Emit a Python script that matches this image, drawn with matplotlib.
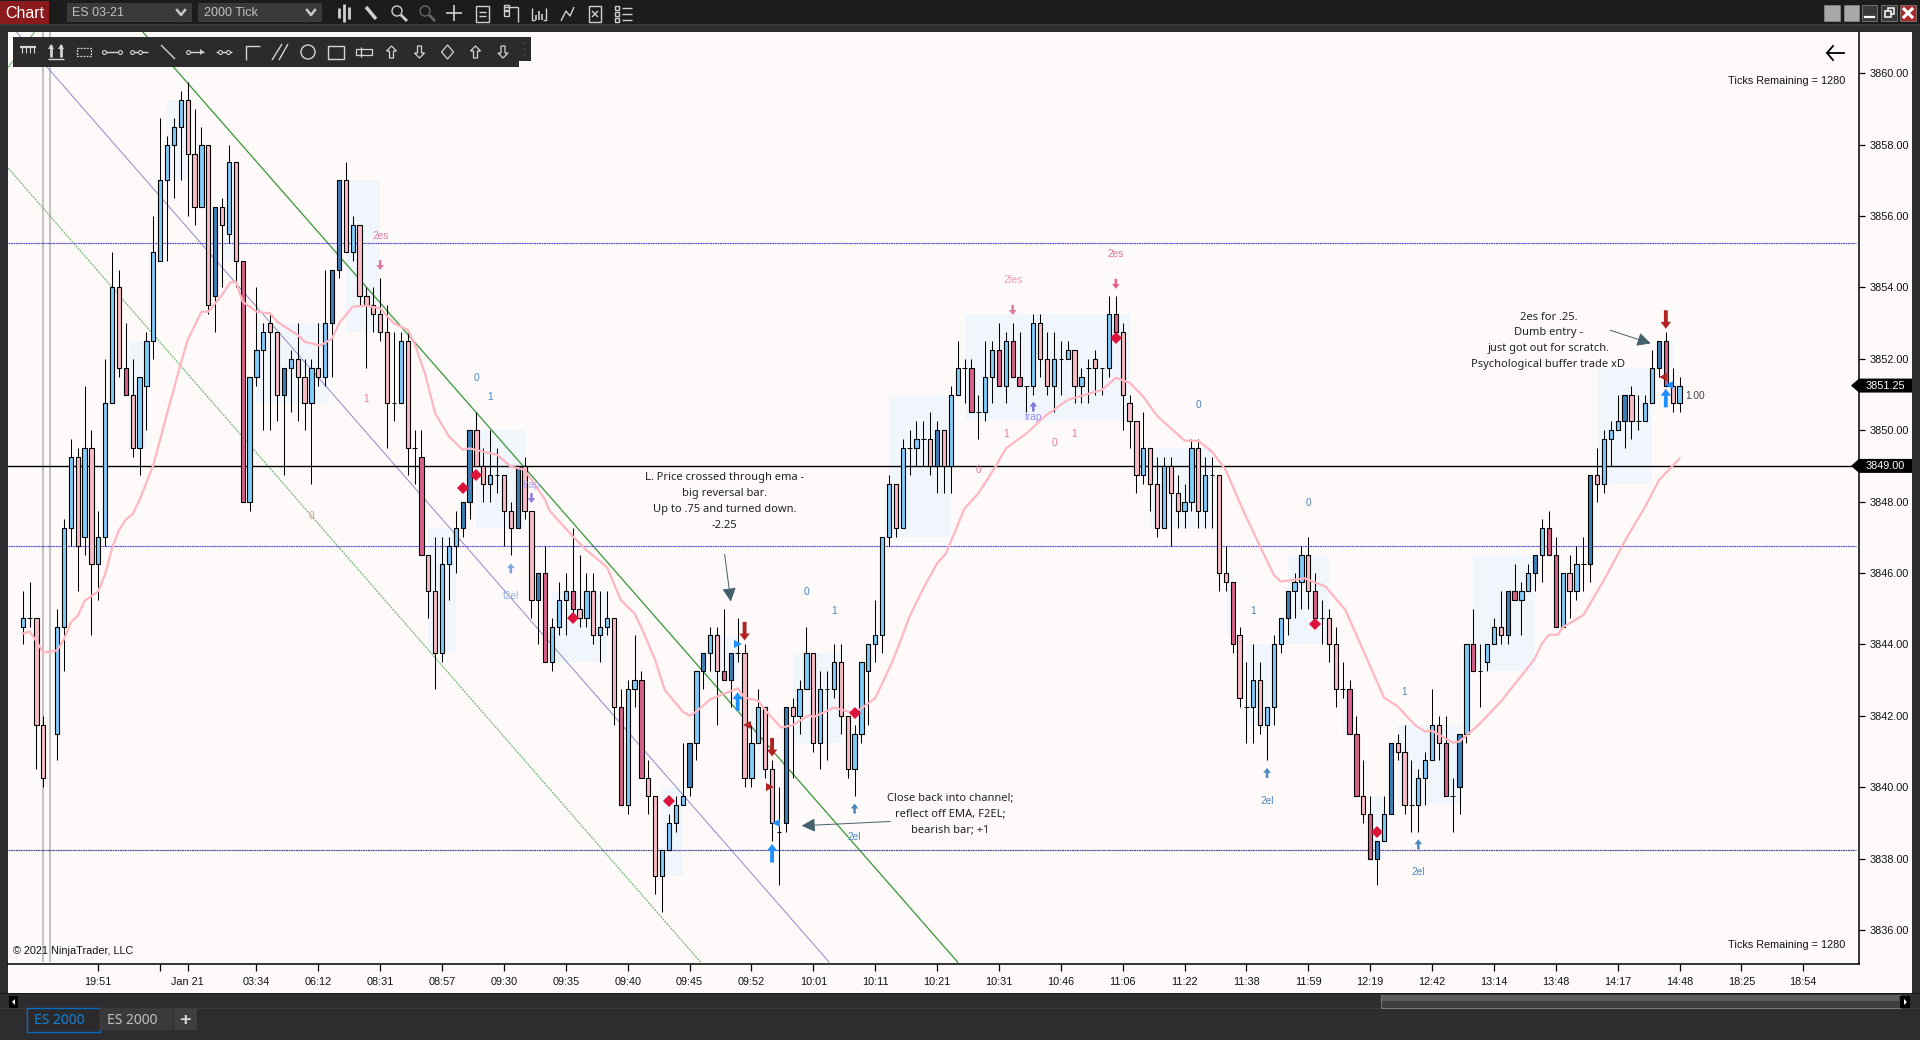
import math
import matplotlib
matplotlib.use("Agg")
import matplotlib.pyplot as plt
from matplotlib.patches import Rectangle, Polygon, Circle

nan = math.nan

opens = [3844.5,3844.75,3844.75,3841.75,nan,3841.5,3844.5,3847.25,3849.25,3847,3849.5,3846.25,3847,3850.75,3854,3851.75,3851,3849.5,3851.25,3852.5,
3854.75,3857,3858,3858.5,3859.25,3857.75,3856.25,3858,3853.75,3856.25,3855.5,3857.5,3854.75,3848,3851.5,3852.25,3853,3852.75,3851,3851.75,
3852,3851.5,3850.75,3851.75,3851.5,3853,3854.5,3857,3855,3855.75,3853.75,3853.5,3853.25,3852.75,3850.75,3850.75,3852.5,3849.5,3849.25,3846.5,
3845.5,3843.75,3846.25,3846.75,3847.25,3848,3850,3849,3848.5,3848.75,3848.75,3847.75,3847.25,3849,3847.75,3845.25,3846,3843.5,3844.5,3845.25,
3845.5,3845,3844.75,3845.5,3844.25,3844.5,3844.75,3842.25,3839.5,3842.75,3843,3840.25,3839.75,3837.5,3838.25,3839,3839.5,3840,3841.25,3843.25,
3843.75,3844.25,3843.25,3843,3843.75,3843.75,3840.25,3841.25,3842.25,3840.5,3838.75,3839,3842.25,3842,3842.75,3843.75,3841.25,3842.75,3842.75,3843.5,
3842,3840.5,3841.5,3843.25,3844,3844.25,3847,3848.5,3847.25,3849.5,3849.5,3849.75,3849.75,3849,3850,3849,3851,3851.75,3851.75,3850.5,
3850.5,3851.5,3852.25,3851.25,3852.5,3851.5,3851.25,3851.25,3853,3852,3851.25,3852,3852,3852.25,3851.25,3851.75,3852,3851.75,3851.75,3853.25,
3852.75,3850.75,3850.25,3848.75,3849.5,3848.5,3847.25,3849,3848.25,3847.75,3848,3849.5,3847.75,3848.75,3848.75,3846,3845.75,3844.25,3842.25,3842.25,
3843,3841.75,3842.25,3844,3844.75,3845.5,3845.75,3846.5,3845.5,3844.75,3844.75,3844,3842.75,3842.75,3841.5,3839.75,3839.25,3838,3838.5,3839.25,
3841.25,3841,3839.5,3839.5,3840.25,3840.75,3841.75,3841.25,3839.75,3840,3841.5,3844,3843.25,3843.5,3844,3844.5,3844.25,3845.5,3845.25,3845.5,
3846,3846.5,3847.25,3846.5,3844.5,3846,3845.5,3846.25,3846.25,3848.75,3848.5,3849.75,3850,3850.25,3851,3850.25,3850.25,3850.75,3851.75,3852.5,
3851.25,3850.75]
highs = [3845.5,3845.75,3844.75,3842,nan,3845,3847.5,3849.75,3849.5,3851.25,3850,3847.75,3852,3855,3854.5,3853,3852,3851.5,3852.75,3856,
3858.75,3858.25,3858.75,3859.5,3859.75,3859,3858.5,3858,3856.25,3856.5,3858,3857.5,3854.75,3851.5,3854,3853,3853.25,3852.75,3851.75,3852.25,
3853,3852,3852,3853,3854.5,3854.5,3857,3857.5,3856,3855.75,3854,3854,3854.25,3853.5,3852.75,3852.75,3852.75,3850,3850,3846.5,
3847,3847,3847,3847.75,3848,3850,3850.5,3849.5,3850,3849.5,3848.75,3848,3849,3849.25,3847.75,3846,3846.75,3844.75,3845.75,3846,
3847.25,3846.5,3846,3846,3845.5,3845.5,3844.75,3842.75,3843,3844.25,3843.25,3840.75,3839.75,3838.25,3839.25,3839.75,3841.25,3841.25,3843.25,3843.75,
3844.5,3844.5,3845,3843.75,3844.75,3844,3841.75,3842.75,3842.25,3840.75,3840,3842.25,3842.5,3843,3844.5,3843.75,3843.25,3843.25,3844,3844,
3842,3841.75,3843.5,3844,3845.25,3847,3848.75,3848.5,3849.75,3850,3850.25,3850.25,3850.5,3850.25,3850,3851.25,3852.5,3852,3852,3851,
3852.5,3852.5,3853,3852.75,3853,3852.75,3851.25,3853.25,3853.25,3852.75,3852.75,3852.5,3852.5,3852.25,3851.75,3852,3852.25,3851.75,3853.75,3853.75,
3853,3851,3850.25,3850.5,3849.5,3849.25,3849.25,3849.25,3848.75,3848.5,3849.75,3849.75,3849.25,3849.25,3848.75,3846.75,3845.75,3844.5,3843.5,3844,
3843.5,3842.25,3844.25,3844.75,3845.5,3846,3846.75,3847,3846,3845.25,3845,3844.5,3843.5,3843,3842,3840.75,3839.75,3838.5,3839.75,3841.25,
3841.5,3841.75,3840.75,3840.5,3841,3842.75,3842,3842,3840.25,3841.5,3844,3845,3844,3844,3844.75,3845.5,3845.5,3846.25,3845.75,3846.25,
3846.5,3847.5,3847.75,3847,3846,3846.5,3846.75,3847,3848.75,3849.5,3850,3850.25,3851,3851,3851.25,3851,3851,3852.25,3852.5,3852.75,
3851.75,3851.5]
lows = [3844,3844.5,3840.5,3840,nan,3840.75,3843.25,3846.75,3845.5,3846.5,3844.25,3845.25,3846.75,3850.75,3851.5,3851,3849.25,3848.75,3850,3852,
3854.75,3854.75,3856.5,3857,3856,3855.75,3856.25,3853.25,3852.75,3854,3855.25,3854,3848,3847.75,3851.25,3850,3850,3850.25,3848.75,3850.5,
3850.25,3850,3848.5,3851.25,3851.25,3851.5,3854.25,3855,3854.75,3853.5,3851.75,3852.75,3852.5,3849.5,3850.25,3850.75,3848.75,3848.5,3846.5,3844.75,
3842.75,3843.5,3845.25,3846,3847,3847.5,3849,3848,3848,3848.25,3846.75,3846.5,3847.25,3847.5,3844.75,3844,3843.5,3843.25,3844.25,3844.25,
3844.75,3844.5,3844.5,3844,3843.5,3844.25,3841.75,3839.5,3839.25,3842.25,3840.25,3839.25,3837,3836.5,3838.25,3838.75,3839.5,3839.75,3840.75,3842.75,
3843.25,3841.75,3843,3842.25,3843.5,3840,3840,3841.25,3840.25,3838.5,3837.25,3838.75,3840.25,3841.5,3842.75,3841,3840.5,3840.75,3842.5,3841.5,
3840.25,3839.75,3841.25,3841.75,3843.5,3843.75,3846.75,3847,3847.25,3848.75,3849,3849,3848.75,3848.25,3848.25,3848.25,3851,3850.75,3850.5,3849.75,
3850.25,3850.75,3851.25,3850.75,3851.5,3851.25,3850.5,3851,3851.5,3851,3850.5,3851,3852,3850.75,3850.75,3850.75,3851,3851,3851.5,3852.75,
3850,3849.5,3848.25,3848.5,3847.75,3847,3847.25,3846.75,3847.25,3847.25,3847.75,3847.25,3847.25,3847.25,3845.5,3845.5,3843.75,3842.25,3841.25,3841.25,
3841.5,3840.75,3841.75,3843.75,3844.25,3844.75,3845,3845,3844.75,3844,3843.5,3842.25,3842.5,3841.5,3839.75,3839,3838,3837.25,3838.5,3839.25,
3840.75,3839.25,3838.75,3838.75,3839.5,3840.75,3840.75,3839.75,3838.75,3839.25,3841.25,3843.25,3842.25,3843.25,3844,3844,3844,3845.25,3844.25,3845.5,
3845.5,3845.75,3846.5,3844.5,3844.5,3844.75,3845.25,3845.5,3845.75,3848,3848.25,3849,3850,3849.5,3849.75,3850,3850.25,3850.75,3851.5,3851.25,
3850.5,3850.5]
closes = [3844.75,3844.75,3841.75,3840.25,nan,3844.5,3847.25,3849.25,3846.75,3849.5,3846.25,3847,3850.75,3854,3851.75,3851,3849.5,3851.5,3852.5,3855,
3857,3858,3858.5,3859.25,3857.75,3856.25,3858,3853.5,3856.25,3855.75,3857.5,3854.75,3848,3851.5,3852.25,3852.75,3852.75,3851,3851.75,3852,
3851.5,3850.75,3851.75,3851.5,3853,3854.5,3857,3855,3855.75,3853.75,3853.5,3853.25,3852.75,3850.75,3850.75,3852.5,3849.5,3849.5,3846.5,3845.5,
3843.75,3846.25,3846.75,3847.25,3848,3850,3849,3848.5,3848.75,3848.75,3847.75,3847.25,3849,3847.75,3845.25,3846,3843.5,3844.5,3845.25,3845.5,
3845,3844.75,3845.5,3844.25,3844.5,3844.75,3842.25,3839.5,3842.75,3843,3840.25,3839.75,3837.5,3838.25,3839,3839.5,3839.75,3841.25,3843.25,3843.75,
3844.25,3843.25,3843,3843.75,3843.75,3840.25,3841.25,3842.25,3840.5,3839,3838.75,3842.25,3842,3842.75,3843.75,3841.25,3842.75,3842.75,3843.5,3842,
3840.5,3841.5,3843.5,3844,3844.25,3847,3848.5,3847.25,3849.5,3849.5,3849.75,3849.75,3849,3850,3849,3851,3851.75,3851.75,3850.5,3850.5,
3851.5,3852.25,3851.25,3852.5,3851.5,3851.25,3851.25,3853,3852,3851.25,3852,3852,3852.25,3851.25,3851.5,3851.75,3851.75,3851.75,3853.25,3852.75,
3851,3850.25,3848.75,3849.5,3848.5,3847.25,3849,3848.25,3847.75,3848,3849.5,3847.75,3848.75,3848.75,3846,3845.75,3844,3842.5,3842.25,3843,
3841.75,3842.25,3844,3844.75,3845.5,3845.75,3846.5,3845.5,3844.75,3844.75,3844,3842.75,3842.75,3841.5,3839.75,3839.25,3838,3838.5,3839.25,3841.25,
3841,3839.5,3839.5,3840.25,3840.75,3841.75,3841.25,3839.75,3839.75,3841.5,3844,3843.25,3843.25,3844,3844.5,3844.25,3845.5,3845.25,3845.5,3846,
3846.5,3847.25,3846.5,3844.5,3846,3845.5,3846.25,3846.25,3848.75,3848.5,3849.75,3850,3850.25,3851,3850.25,3850.25,3850.75,3851.75,3852.5,3851.25,
3850.75,3851.25]
dark_bars = [15,28,32,38,45,46,58,64,65,72,75,76,80,87,90,97,99,102,103,111,133,138,142,144,145,159,176,184,188,193,194,196,197,199,
             207,209,211,216,217,220,222,223,228,233,238,239]

ema_i = [0,1,2,3,5,6,7,8,9,11,12,13,14,15,16,17,19,21,23,24,26,27,29,30.2,31,32,34,36,37,40,41,43.3,45,46,48,50,52,54,56,57,58.5,60,62,64,65,69,71,73,76,
         76.6,80,82,85,87,89,90,92,93.4,96,97,98,100,104,105,107,108,110.3,112,114.4,115,118,121,124,126.6,129,131,133,134.3,137,139,141.5,143,146,148.6,152,157,159,161,163,165,169,171,173,175,177.5,180,182,183,
         186.5,189.5,192.4,195.6,198,200,202.5,204,205,208,209,212,215,219.8,221,222,223.3,224,227,230,233.4,236,238,241]
ema_v = [3844.3,3844.36,3844.09,3843.77,3843.83,3844.14,3844.62,3844.8,3845.22,3845.49,3845.97,3846.7,3847.2,3847.5,3847.65,3848.05,3849.02,3850.47,3851.87,3852.53,3853.32,3853.32,3853.79,3854.14,3854.16,3853.6,3853.32,3853.27,3853.04,3852.67,3852.48,3852.37,3852.57,3852.99,3853.46,3853.49,3853.41,3852.99,3852.81,3852.43,3851.59,3850.47,3849.82,3849.45,3849.49,3849.31,3848.98,3848.89,3848.05,
         3847.75,3847.03,3846.64,3846.16,3845.24,3844.86,3844.47,3843.56,3842.72,3842.12,3842.0,3842.12,3842.46,3842.77,3842.51,3842.42,3842.16,3841.67,3841.74,3842.02,3841.96,3842.23,3842.07,3842.49,3843.56,3844.78,3845.57,3846.27,3846.55,3847.81,3848.23,3848.98,3849.49,3849.91,3850.38,3850.85,3851.13,3851.47,3851.33,3850.94,3850.4,3849.71,3849.7,3849.4,3848.88,3847.76,3846.74,3845.94,3845.76,
         3845.85,3845.62,3844.96,3843.56,3842.51,3842.26,3841.74,3841.56,3841.58,3841.25,3841.28,3841.79,3842.4,3843.56,3844.03,3844.27,3844.27,3844.48,3844.82,3845.8,3847.02,3847.86,3848.6,3849.21]

shade_i0 = [21,29,47,15.5,34,66,59,77,93,100,106,112,126,137,164,175,178,184,211,229,238,200,196,192]
shade_i1 = [24,31.5,52,18,44.5,73,63,85,96,104,108,119,135,161,173,176,182,190,220,237,240,209,198,193]
shade_p0 = [3857,3854.75,3852.75,3849.5,3850.75,3847.25,3843.75,3843.5,3837.5,3843,3840.25,3841.25,3847,3850.25,3847.25,3844.25,3841.75,3844,3843.25,3848.5,3851.75,3839.5,3838,3841.5]
shade_p1 = [3859.25,3856.25,3857,3852.5,3853,3850,3847.25,3845.5,3840,3844.25,3842.25,3843.75,3851,3853.25,3849.5,3846,3844,3846.5,3846.5,3851.75,3852.5,3841.75,3839.75,3842.75]

levels = [3855.25, 3846.75, 3838.25]
last_close_level = 3849.0
last_price = 3851.25

tick_idx = [11,20,24] + [34 + 9 * k for k in range(26)]
tick_lab = ['19:51','','Jan 21','03:34','06:12','08:31','08:57','09:30','09:35','09:40','09:45','09:52','10:01','10:11','10:21','10:31','10:46',
            '11:06','11:22','11:38','11:59','12:19','12:42','13:14','13:48','14:17','14:48','18:25','18:54']
price_ticks = [3836,3838,3840,3842,3844,3846,3848,3850,3852,3854,3856,3858,3860]

dia_i = [64,66,80,94,121,159,188,197]
dia_p = [3848.37,3848.74,3844.75,3839.6,3842.07,3852.59,3844.56,3838.74]

# arrows: index, centre price, direction, colour, size class
arr_i = [52,144,159,74,71,121,181,203,147,105,109,239,104,109,239]
arr_p = [3854.63,3853.37,3854.1,3848.1,3846.13,3839.4,3840.4,3838.4,3850.66,3844.37,3841.12,3853.1,3842.4,3838.15,3850.9]
arr_d = [-1,-1,-1,-1,1,1,1,1,1,-1,-1,-1,1,1,1]
arr_c = ['#e27a9e','#e27a9e','#e0608e','#8a7fe0','#7fa8d8','#4a86c0','#4a86c0','#4a86c0','#7f78e0','#b22222','#b22222','#b22222','#1e90ff','#1e90ff','#1e90ff']
arr_big = [0,0,0,0,0,0,0,0,0,1,1,1,1,1,1]

tri_i = [104,105.3,108.7,109.5,238.6,239.5]
tri_p = [3844,3841.74,3840,3838.99,3851.5,3851.27]
tri_m = ['>','<','>','<','<','<']
tri_c = ['#1e90ff','#b22222','#b22222','#1e90ff','#b22222','#1e90ff']

lab_t = ['2es','1','0','1','trap','0','f2el','2fes','2es','0','1','0','1','0','1','trap','0','1','2el','2el','1','2el','0','1.00']
lab_i = [52,50,66,68,74,42,71,144,159,114,118,139,143,150,153,147,171,179,121,181,201,203,187,243.3]
lab_p = [3855.45,3850.87,3851.45,3850.94,3848.46,3847.6,3845.36,3854.2,3854.94,3845.46,3844.94,3848.88,3849.88,3849.63,3849.88,3850.36,3850.7,3844.94,3838.6,3839.62,3842.68,3837.62,3847.95,3850.97]
lab_c = ['#e27a9e','#e27a9e','#4a86c0','#4a86c0','#b0a8ee','#d89a9a','#8fb4de','#eaa0ba','#e0709a','#4a86c0','#4a86c0','#e27a9e','#e27a9e','#e27a9e','#e27a9e','#9a90ea','#4a86c0','#4a86c0','#4a86c0','#4a86c0','#4a86c0','#4a86c0','#4a86c0','#444444']

note_t = ['L. Price crossed through ema -\nbig reversal bar.\nUp to .75 and turned down.\n-2.25',
          'Close back into channel;\nreflect off EMA, F2EL;\nbearish bar; +1',
          '2es for .25.\nDumb entry -\njust got out for scratch.\nPsychological buffer trade xD']
note_i = [102.1,134.9,221.9]
note_p = [3848.0,3839.25,3852.5]
call_i0 = [102.1,126.2,230.9]
call_p0 = [3846.52,3839.04,3852.8]
call_i1 = [103.0,113.3,236.8]
call_p1 = [3845.2,3838.92,3852.43]

# geometry of the frame
W, H = 1920, 1040
PL, PR, PT, PB = 8, 1858.7, 32, 964
BAR0, BARW = 22.7, 6.875
P0, PY0, PPT = 3836, 930, 35.7

fig = plt.figure(figsize=(19.2, 10.4), dpi=100, facecolor='#2d2d2f')

# ---- window chrome below the plot
bg = fig.add_axes([0, 0, 1, 1], zorder=0)
bg.set_xlim(0, W); bg.set_ylim(H, 0); bg.axis('off')
def box(a, x0, y0, x1, y1, **kw):
    kw.setdefault('lw', 0)
    a.add_patch(Rectangle((x0, y0), x1 - x0, y1 - y0, **kw))
box(bg, 0, 0, W, 24, fc='#1c1c1c')
box(bg, 0, 24, W, 26, fc='#3a3a3c')
box(bg, PL, PT, 1911.7, 993, fc='#fffafa')
box(bg, 0, 993, W, 994, fc='#1a1a1a')
box(bg, 0, 1008, W, 1009, fc='#3a3a3c')
box(bg, 1381, 994.5, 1900, 1007.5, fc='#3e3e3e', ec='#777777', lw=0.8)
box(bg, 1382, 995, 1899, 1001, fc='#5e5e5e')
box(bg, 9, 996, 18, 1008, fc='black')
box(bg, 1900, 996, 1910, 1008, fc='black')
bg.add_patch(Polygon([[15, 999], [15, 1005], [12, 1002]], fc='white', lw=0))
bg.add_patch(Polygon([[1904, 999], [1904, 1005], [1907, 1002]], fc='white', lw=0))
box(bg, 27, 1008, 100, 1032, fc='#2a2a2c', ec='#0a6cc0', lw=1)
box(bg, 100, 1008, 173, 1030, fc='#3a3a3c')
box(bg, 174, 1008, 197, 1030, fc='#3f3f41')
sans = 'Liberation Sans'
ui = 'Noto Sans'
bg.text(59, 1020, 'ES 2000', color='#1082d8', fontsize=10, family=ui, ha='center', va='center')
bg.text(132, 1020, 'ES 2000', color='#c0c0c0', fontsize=10, family=ui, ha='center', va='center')
bg.text(185, 1020, '+', color='#d8d8d8', fontsize=14, family=sans, weight='bold', ha='center', va='center')
box(bg, 0, 1, 49, 24, fc='#8a1a1c')
bg.text(25, 13, 'Chart', color='white', fontsize=11.5, family=sans, ha='center', va='center')
for x0, x1, t in [(66.5, 192, 'ES 03-21'), (198, 322, '2000 Tick')]:
    box(bg, x0, 3, x1, 22, fc='#3a3a3c')
    bg.text(x0 + 6, 12.5, t, color='#c0c0c0', fontsize=9, family=sans, va='center')
    bg.plot([x1 - 15, x1 - 11, x1 - 7], [10, 15, 10], color='#c8c8c8', lw=1.8)
for x0, x1, c in [(1824, 1840, '#a8a8a8'), (1844, 1859, '#a8a8a8'), (1862, 1877, '#3a3a3c'), (1881, 1897, '#3a3a3c'), (1900, 1916, '#a82a2a')]:
    box(bg, x0, 5, x1, 21, fc=c, ec='#8a8a8a', lw=0.5)
bg.plot([1865, 1874], [17, 17], color='white', lw=1.6)
box(bg, 1888, 8, 1894, 14, fc='none', ec='white', lw=1.1)
box(bg, 1885, 11, 1891, 17, fc='#3a3a3c', ec='white', lw=1.1)
bg.plot([1904, 1912], [9, 17], color='white', lw=2.2)
bg.plot([1904, 1912], [17, 9], color='white', lw=2.2)
ic = '#d0d0d0'
def seg(a, xs, ys, c=ic, lw=1.0):
    a.plot(xs, ys, color=c, lw=lw, solid_capstyle='butt')
# top bar icons
for x, hh in [(339, 5), (344, 9), (349, 6)]:
    seg(bg, [x, x], [13 - hh, 13 + hh], c=ic, lw=2)
seg(bg, [366, 376], [7, 19], lw=2.5)
for x, c in [(398, ic), (426, '#666666')]:
    bg.add_patch(Circle((x - 1, 11), 5, fc='none', ec=c, lw=1))
    seg(bg, [x + 3, x + 9], [15, 21], c=c, lw=2)
seg(bg, [446, 462], [13, 13], lw=1.2); seg(bg, [454, 454], [5, 21], lw=1.2)
box(bg, 476, 6, 489, 22, fc='none', ec=ic, lw=1)
seg(bg, [479, 486], [12, 12]); seg(bg, [479, 486], [16, 16])
seg(bg, [504, 518], [7, 7]); seg(bg, [518, 518], [7, 22]); box(bg, 504, 5, 509, 10, fc='none', ec=ic, lw=1); box(bg, 504, 11, 509, 16, fc='none', ec=ic, lw=1)
seg(bg, [532, 532, 535], [8, 20, 20]); seg(bg, [546, 546, 543], [8, 20, 20])
for x, t in [(536, 15), (539, 11), (542, 14)]:
    seg(bg, [x, x], [t, 20], lw=1.2)
seg(bg, [561, 566, 570, 574], [21, 11, 16, 7])
box(bg, 589, 6, 601, 22, fc='none', ec=ic, lw=1)
seg(bg, [592, 598], [11, 17]); seg(bg, [592, 598], [17, 11])
for y in [8, 14, 20]:
    box(bg, 615, y - 2, 619, y + 2, fc='none', ec=ic, lw=1)
    seg(bg, [622, 632], [y, y])

# ---- price chart
ax = fig.add_axes([PL / W, 1 - PB / H, (PR - PL) / W, (PB - PT) / H], zorder=1)
ax.set_facecolor('#fffafa')
ax.set_xlim((PL - BAR0) / BARW, (PR - BAR0) / BARW)
ax.set_ylim(P0 - (PB - PY0) / PPT, P0 + (PY0 - PT) / PPT)
ymin, ymax = ax.get_ylim()

for a, b, c, d in zip(shade_i0, shade_i1, shade_p0, shade_p1):
    ax.add_patch(Rectangle((a, c), b - a, d - c, fc='#f1f6fd', lw=0, zorder=1))

ax.plot([3, 3], [ymin + 0.08, ymax], color='#c4c4c4', lw=1.5, zorder=1.5)
ax.plot([4, 4], [ymin + 0.08, ymax], color='#c4c4c4', lw=1.5, zorder=1.5)

ax.plot([-2.1, 98.6], [3857.34, 3835.1], color='#6fb56f', lw=0.8, ls=(0, (2, 0.8)), zorder=2)
ax.plot([-2.1, 1.7], [3860.17, 3861.15], color='#6fb56f', lw=0.8, zorder=2)
ax.plot([-0.9, 117.3], [3861.15, 3835.1], color='#9088c8', lw=0.7, zorder=2)
ax.plot([17.5, 136], [3861.15, 3835.1], color='#3f9a3f', lw=0.95, zorder=2)

level_c = ['#5a50d8', '#5a50d8', '#4a4a90']
for lv, lc in zip(levels, level_c):
    ax.plot([ax.get_xlim()[0], 266.6], [lv, lv], color=lc, lw=0.85, ls=(0, (1.6, 0.5)), zorder=2)
ax.axhline(last_close_level, color='black', lw=1.0, zorder=2)

ax.plot(ema_i, ema_v, color='#ffb6c1', lw=1.6, zorder=4, solid_joinstyle='round')

for i, (o, h, l, c) in enumerate(zip(opens, highs, lows, closes)):
    if math.isnan(o):
        continue
    ax.plot([i, i], [l, h], color='black', lw=0.75, zorder=3, solid_capstyle='butt')
    if o == c:
        ax.plot([i - 0.33, i + 0.33], [o, o], color='black', lw=0.75, zorder=3, solid_capstyle='butt')
        continue
    dark = i in dark_bars
    if c > o:
        fc = '#3c7fb8' if dark else '#7fcbfa'
    else:
        fc = '#d8608a' if dark else '#f9bcc6'
    ax.add_patch(Rectangle((i - 0.31, min(o, c)), 0.62, abs(c - o), fc=fc, ec='black', lw=0.8, zorder=3.5))

ax.plot(dia_i, dia_p, ls='none', marker='D', ms=6, color='#dc143c', mew=0, zorder=6)

for i, p, d, c, b in zip(arr_i, arr_p, arr_d, arr_c, arr_big):
    half = 0.26 if b else 0.14
    style = 'simple,head_length=%g,head_width=%g,tail_width=%g' % ((5, 7.5, 2.8) if b else (3.5, 5.5, 1.8))
    ax.annotate('', xy=(i, p + d * half), xytext=(i, p - d * half),
                arrowprops=dict(arrowstyle=style, color=c, lw=0, shrinkA=0, shrinkB=0, mutation_scale=1), zorder=6)

for i, p, m, c in zip(tri_i, tri_p, tri_m, tri_c):
    ax.plot([i], [p], ls='none', marker=m, ms=5.5, color=c, mew=0, zorder=6)

for t, i, p, c in zip(lab_t, lab_i, lab_p, lab_c):
    ax.text(i, p, t, color=c, fontsize=7.3, family=sans, ha='center', va='center', zorder=7)

for t, i, p in zip(note_t, note_i, note_p):
    ax.text(i, p, t, color='#222222', fontsize=8.0, family=ui, ha='center', va='center', linespacing=1.62, zorder=7)
for a, b, c, d in zip(call_i0, call_p0, call_i1, call_p1):
    ax.annotate('', xy=(c, d), xytext=(a, b),
                arrowprops=dict(arrowstyle='-|>,head_length=0.75,head_width=0.38', color='#44606a', lw=0.7, shrinkA=0, shrinkB=0, mutation_scale=11), zorder=6)

for s in ['top', 'left']:
    ax.spines[s].set_visible(False)
for s in ['bottom', 'right']:
    ax.spines[s].set_linewidth(1.1)
    ax.spines[s].set_color('black')
ax.set_xticks(tick_idx, tick_lab)
ax.yaxis.tick_right()
ax.set_yticks(price_ticks, ['%.2f' % v for v in price_ticks])
ax.tick_params(axis='x', length=5, width=0.9, pad=4.5, labelsize=7.8, labelcolor='#111111')
ax.tick_params(axis='y', length=4.5, width=0.9, pad=3, labelsize=7.8, labelcolor='#111111')
for t in ax.get_xticklabels() + ax.get_yticklabels():
    t.set_family(sans)

# ---- items above the plot, in window pixels
top = fig.add_axes([0, 0, 1, 1], zorder=2)
top.set_xlim(0, W); top.set_ylim(H, 0); top.axis('off'); top.patch.set_alpha(0)
def pix_y(p):
    return PY0 - (p - P0) * PPT
for p, t in [(last_price, '%.2f' % last_price), (last_close_level, '%.2f' % last_close_level)]:
    y = pix_y(p)
    top.add_patch(Polygon([[1851, y], [1859, y - 7], [1912, y - 7], [1912, y + 7], [1859, y + 7]], fc='black', lw=0))
    top.text(1885.5, y, t, color='white', fontsize=7.8, family=sans, ha='center', va='center')
top.text(1845, 81, 'Ticks Remaining = 1280', fontsize=7.8, family=sans, color='#111111', ha='right', va='center')
top.text(1845, 945, 'Ticks Remaining = 1280', fontsize=7.8, family=sans, color='#111111', ha='right', va='center')
top.text(13, 951, '\u00a9 2021 NinjaTrader, LLC', fontsize=7.8, family=sans, color='#111111', ha='left', va='center')
top.plot([1827, 1844], [53, 53], color='black', lw=1.3)
top.plot([1833, 1827, 1833], [46, 53, 60], color='black', lw=1.3)

# drawing toolbar
box(top, 13, 37, 519, 67, fc='#2b2b2d')
box(top, 519, 37, 531, 61, fc='#2b2b2d')
for y in [43, 49, 55]:
    top.add_patch(Circle((524.5, y), 1, fc='#4a4a4a', lw=0))
tc = '#d4d4d4'
yc = 52
seg(top, [20, 36], [47, 47], c=tc, lw=1.6)
for x in [22, 26, 30, 34]:
    seg(top, [x, x], [47, 53], c=tc, lw=0.8)
for x, s in [(51, 1), (61, -1)]:
    seg(top, [x, x], [45, 57], c=tc, lw=2)
    top.add_patch(Polygon([[x - 3, 49], [x + 3, 49], [x, 44]], fc=tc, lw=0))
seg(top, [48, 64], [59, 59], c=tc, lw=1)
box(top, 77, 48, 91, 56, fc='none', ec=tc, lw=0.9, ls=(0, (1.5, 1)))
seg(top, [104, 120], [yc, yc], c=tc)
seg(top, [132, 148], [yc, yc], c=tc)
seg(top, [161, 175], [45, 59], c=tc)
seg(top, [188, 204], [yc, yc], c=tc)
top.add_patch(Polygon([[200, 49], [204, 52], [200, 55]], fc=tc, lw=0))
seg(top, [216, 232], [yc, yc], c=tc)
for xs in [[104, 120], [132, 140], [188], [220, 228]]:
    top.plot(xs, [yc] * len(xs), ls='none', marker='o', ms=2.8, mfc='#2b2b2d', mec=tc, mew=0.8)
seg(top, [246, 246, 260], [60, 46, 46], c=tc)
seg(top, [272, 282], [60, 44], c=tc); seg(top, [279, 288], [60, 44], c=tc)
top.add_patch(Circle((308, yc), 7, fc='none', ec=tc, lw=1))
box(top, 328, 46, 344, 59, fc='none', ec=tc, lw=1)
box(top, 356, 49, 372, 55, fc='none', ec=tc, lw=0.9); seg(top, [361, 361], [47, 57], c=tc)
for x, d in [(391.5, 1), (419.5, -1), (475.5, 1), (503, -1)]:
    top.add_patch(Polygon([[x, yc - 6 * d], [x + 5, yc - d], [x + 2, yc - d], [x + 2, yc + 6 * d], [x - 2, yc + 6 * d], [x - 2, yc - d], [x - 5, yc - d]], fc='none', ec=tc, lw=0.9))
top.add_patch(Polygon([[447.5, 45], [453.5, yc], [447.5, 59], [441.5, yc]], fc='none', ec=tc, lw=0.9))

fig.savefig('out.png', dpi=100, facecolor=fig.get_facecolor())
